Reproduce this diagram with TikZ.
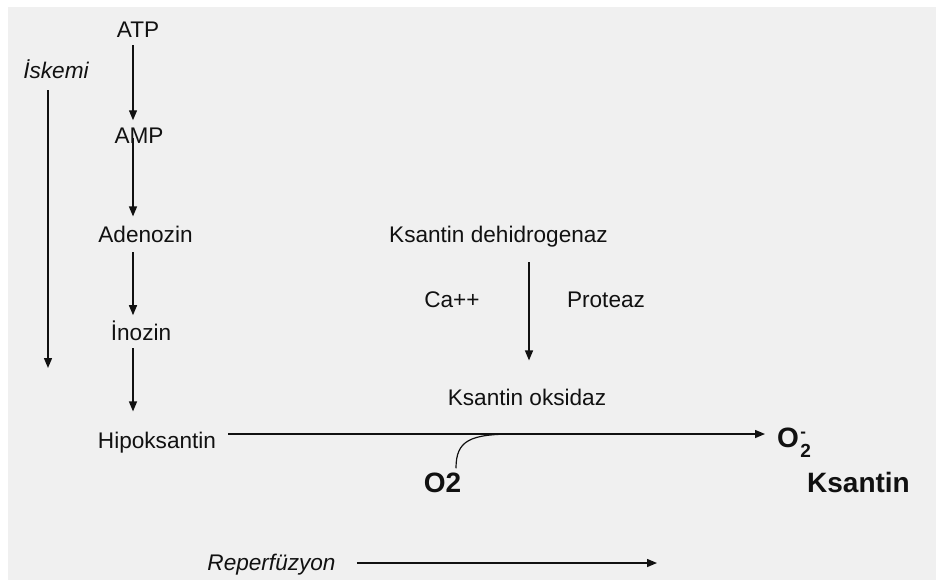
\documentclass[tikz,border=0pt]{standalone}
\usepackage{fontspec}
\setmainfont{Liberation Sans}
\usetikzlibrary{arrows.meta}
\definecolor{bg}{HTML}{F0F0F0}
\definecolor{ink}{HTML}{111111}
\begin{document}
\begin{tikzpicture}[x=1pt,y=-1pt,
  lbl/.style={font=\fontsize{22.6}{26}\selectfont, inner sep=0pt, anchor=base, text=ink},
  ilbl/.style={font=\fontsize{22.6}{26}\selectfont\itshape, inner sep=0pt, anchor=base, text=ink},
  blbl/.style={font=\fontsize{28}{32}\selectfont\bfseries, inner sep=0pt, anchor=base, text=ink},
  arr/.style={-{Triangle[length=10pt,width=8pt]}, line width=1.4pt, draw=ink},
  curveline/.style={line width=1.2pt, draw=ink}]
\useasboundingbox (0,0) rectangle (936,581);
\fill[white] (0,0) rectangle (936,581);
\fill[bg] (8,7) rectangle (936,580);

% nodes
\node[lbl] (atp) at (138,37) {ATP};
\node[lbl] (amp) at (139,143) {AMP};
\node[lbl] (ade) at (145.5,242) {Adenozin};
\node[lbl] (ino) at (141,340) {İnozin};
\node[lbl] (hip) at (157,448) {Hipoksantin};
\node[ilbl] (isk) at (56,78) {İskemi};
\node[lbl] (kdh) at (498.5,242) {Ksantin dehidrogenaz};
\node[lbl] (ca) at (452,307) {Ca++};
\node[lbl] (pro) at (606,307) {Proteaz};
\node[lbl] (kox) at (527,405) {Ksantin oksidaz};
\node[blbl] (otwo) at (442.5,492) {O2};
\node[blbl, anchor=base west] (osup) at (777,447) {O\kern1.5pt\rlap{\raisebox{10pt}{\fontsize{17}{17}\selectfont -}}\raisebox{-10pt}{\fontsize{19}{19}\selectfont 2}};
\node[blbl] (ksa) at (858.5,492) {Ksantin};
\node[ilbl] (rep) at (271.5,570) {Reperfüzyon};

% helper coordinates
\coordinate (colx) at (133,0);
\coordinate (iskx) at (48,0);
\coordinate (kx) at (529,0);
\coordinate (mainEnd) at (765,434);
\coordinate (mainStart) at (228,434);
\coordinate (merge) at (515,434);
\coordinate (repEnd) at (657,563);

% left column
\draw[arr] ([yshift=-8pt]atp.south -| colx) -- ([yshift=7pt]amp.north -| colx);
\draw[arr] ([yshift=5pt]amp.base -| colx) -- ([yshift=9pt]ade.north -| colx);
\draw[arr] ([yshift=-10pt]ade.base -| colx) -- ([yshift=5pt]ino.north -| colx);
\draw[arr] ([yshift=-8pt]ino.base -| colx) -- ([yshift=20pt]hip.north -| colx);
\draw[arr] ([yshift=-12pt]isk.base -| iskx) -- ([yshift=-290pt]isk.base -| iskx);

% xanthine dehydrogenase -> oxidase
\draw[arr] ([yshift=-20pt]kdh.base -| kx) -- ([yshift=28pt]kox.north -| kx);

% main reaction arrow
\draw[arr] (mainStart) -- (mainEnd);
\draw[curveline] ([xshift=13.5pt,yshift=4pt]otwo.north) .. controls +(0,-28) and (470,434) .. (merge);

% reperfusion
\draw[arr] ([xshift=21pt]rep.east |- repEnd) -- (repEnd);
\end{tikzpicture}
\end{document}
